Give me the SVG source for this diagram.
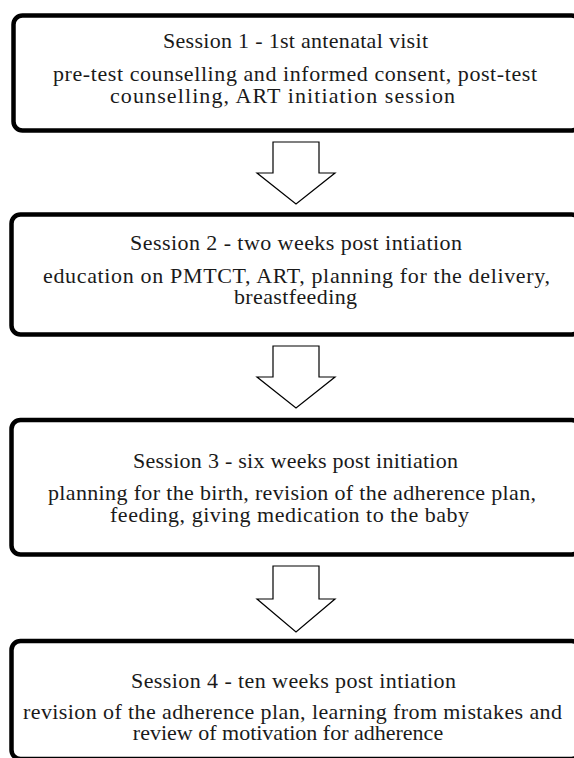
<svg xmlns="http://www.w3.org/2000/svg" width="574" height="758" viewBox="0 0 574 758">
  <style>
    .box { fill: #ffffff; stroke: #000000; stroke-width: 4.5; }
    .arrow { fill: #ffffff; stroke: #000000; stroke-width: 1.2; stroke-linejoin: miter; }
    text { font-family: "Liberation Serif", "Times New Roman", serif; font-size: 22px; fill: #1a1a1a; }
  </style>
  <rect width="574" height="758" fill="#ffffff"/>

  <!-- connectors: hollow block arrows between the sessions -->
  <g id="connectors">
    <polygon class="arrow" points="273,142 319,142 319,173 335,173 296,204 257,173 273,173"/>
    <polygon class="arrow" points="273,346 319,346 319,377 335,377 296,408 257,377 273,377"/>
    <polygon class="arrow" points="273,566 319,566 319,599 335,599 296,632 257,599 273,599"/>
  </g>

  <g id="session1">
    <rect class="box" x="13.5" y="15.5" width="567" height="115" rx="9" ry="9"/>
    <text x="163" y="48" textLength="265" lengthAdjust="spacing">Session 1 - 1st antenatal visit</text>
    <text>
      <tspan x="53" y="81" textLength="484" lengthAdjust="spacing">pre-test counselling and informed consent, post-test</tspan>
      <tspan x="110" y="103" textLength="345" lengthAdjust="spacing">counselling, ART initiation session</tspan>
    </text>
  </g>

  <g id="session2">
    <rect class="box" x="11.5" y="214.5" width="569" height="120" rx="9" ry="9"/>
    <text x="130" y="250" textLength="332" lengthAdjust="spacing">Session 2 - two weeks post intiation</text>
    <text>
      <tspan x="43" y="283" textLength="507" lengthAdjust="spacing">education on PMTCT, ART, planning for the delivery,</tspan>
      <tspan x="234" y="304" textLength="123" lengthAdjust="spacing">breastfeeding</tspan>
    </text>
  </g>

  <g id="session3">
    <rect class="box" x="11.5" y="420" width="569" height="134.5" rx="9" ry="9"/>
    <text x="133" y="468" textLength="325" lengthAdjust="spacing">Session 3 - six weeks post initiation</text>
    <text>
      <tspan x="48" y="500" textLength="488" lengthAdjust="spacing">planning for the birth, revision of the adherence plan,</tspan>
      <tspan x="110" y="522" textLength="359" lengthAdjust="spacing">feeding, giving medication to the baby</tspan>
    </text>
  </g>

  <g id="session4">
    <rect class="box" x="11.5" y="641" width="569" height="118" rx="9" ry="9"/>
    <text x="131" y="688" textLength="325" lengthAdjust="spacing">Session 4 - ten weeks post intiation</text>
    <text>
      <tspan x="23" y="719" textLength="539" lengthAdjust="spacing">revision of the adherence plan, learning from mistakes and</tspan>
      <tspan x="288" y="740" text-anchor="middle">review of motivation for adherence</tspan>
    </text>
  </g>
</svg>
